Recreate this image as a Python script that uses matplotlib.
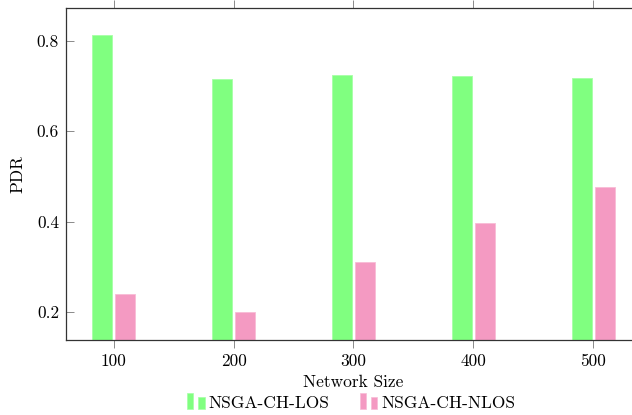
import matplotlib
matplotlib.use("Agg")
import matplotlib.pyplot as plt
from matplotlib.patches import Rectangle
from matplotlib.legend_handler import HandlerBase
import numpy as np

plt.rcParams['font.family'] = ['cmr10', 'DejaVu Serif']
plt.rcParams['axes.formatter.use_mathtext'] = True
plt.rcParams['font.size'] = 12.5

network_sizes = [100, 200, 300, 400, 500]
pdr_los = [0.813, 0.716, 0.724, 0.722, 0.718]
pdr_nlos = [0.240, 0.200, 0.311, 0.398, 0.477]
series_names = ["NSGA-CH-LOS", "NSGA-CH-NLOS"]
yticks = [0.2, 0.4, 0.6, 0.8]

green = "#80FF80"
green_edge = "#A6FFA6"
pink = "#F49AC2"
pink_edge = "#F8BCD6"

fig = plt.figure(figsize=(6.32, 4.15), dpi=100)
W, H = 632, 415
left, right, top, bottom = 66, 641, 8, 340
ax = fig.add_axes([left / W, (H - bottom) / H, (right - left) / W, (bottom - top) / H])

x = np.array(network_sizes, dtype=float)
bw = 16.7
off = 9.6
b1 = ax.bar(x - off, pdr_los, width=bw, color=green, edgecolor=green_edge, linewidth=0.6, label=series_names[0])
b2 = ax.bar(x + off, pdr_nlos, width=bw, color=pink, edgecolor=pink_edge, linewidth=0.6, label=series_names[1])

ax.set_xlim(60, 540)
ax.set_ylim(0.138, 0.873)
ax.set_xticks(network_sizes)
ax.set_xticklabels([str(v) for v in network_sizes])
ax.set_yticks(yticks)
ax.set_yticklabels([f"{v:.1f}" for v in yticks])

for s in ax.spines.values():
    s.set_color("#333333")
    s.set_linewidth(0.9)

ax.tick_params(axis='x', direction='out', length=6, width=0.6, color='#777777',
               top=True, labeltop=False, pad=4)
ax.tick_params(axis='y', direction='in', length=6, width=0.6, color='#777777',
               right=False, pad=5)

ax.set_ylabel("PDR")
ax.yaxis.set_label_coords((25 - left) / (right - left), 0.5)
ax.set_xlabel("Network Size")
ax.xaxis.set_label_coords(0.5, (bottom - 375) / (bottom - top))


class TwoBarHandler(HandlerBase):
    def __init__(self, face, edge):
        super().__init__()
        self.face = face
        self.edge = edge

    def create_artists(self, legend, orig_handle, xdescent, ydescent, width, height, fontsize, trans):
        x0 = -xdescent
        y0 = -ydescent - 0.1 * height
        bwid = width * 0.35
        r1 = Rectangle((x0, y0), bwid, height * 1.3, facecolor=self.face,
                       edgecolor=self.edge, linewidth=0.5, transform=trans)
        r2 = Rectangle((x0 + width - bwid, y0), bwid, height * 0.95, facecolor=self.face,
                       edgecolor=self.edge, linewidth=0.5, transform=trans)
        return [r1, r2]


leg = fig.legend([b1, b2], series_names, loc='center', ncol=2,
                 bbox_to_anchor=(351.5 / W, (H - 403) / H),
                 frameon=False, handlelength=1.0, handletextpad=0.25,
                 columnspacing=1.75, borderpad=0.0,
                 handler_map={b1: TwoBarHandler(green, green_edge),
                              b2: TwoBarHandler(pink, pink_edge)})

fig.savefig("out.png", dpi=100)
